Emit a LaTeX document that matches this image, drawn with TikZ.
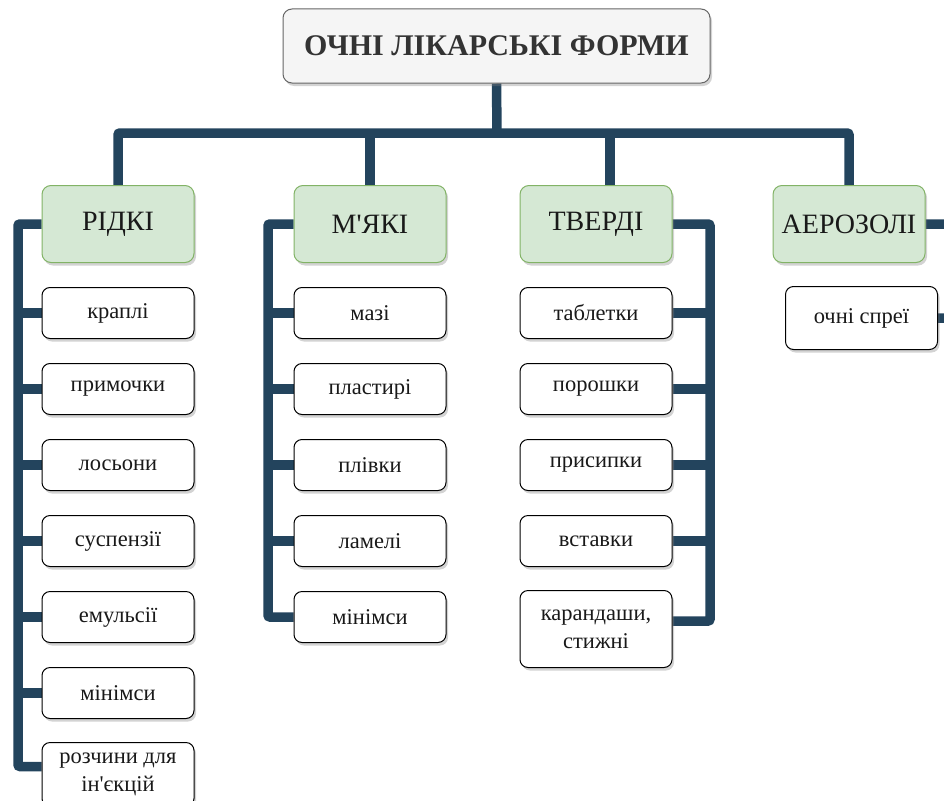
\documentclass[tikz,border=0pt]{standalone}
\usepackage{fontspec}
\setmainfont{Liberation Serif}
\usepackage{tikz}
\usetikzlibrary{positioning, calc, shadows, backgrounds}
\definecolor{titlebg}{HTML}{F5F5F5}
\definecolor{titleframe}{HTML}{666666}
\definecolor{titletext}{HTML}{333333}
\definecolor{groupbg}{HTML}{D5E8D4}
\definecolor{groupframe}{HTML}{82B366}
\definecolor{linkcolor}{HTML}{23445D}
\newcommand{\apos}{\textquotesingle}

\begin{document}
\begin{tikzpicture}[
    x=1pt, y=-1pt,
    title/.style={
        rectangle, rounded corners=9pt,
        fill=titlebg, draw=titleframe, line width=1pt, text=titletext,
        font=\fontsize{30}{34}\selectfont\bfseries,
        minimum width=427pt, minimum height=74pt,
        drop shadow={shadow xshift=2pt, shadow yshift=-3pt, opacity=0.35},
    },
    group/.style={
        rectangle, rounded corners=9pt,
        fill=groupbg, draw=groupframe, line width=1pt, text=black!90,
        font=\fontsize{28}{32}\selectfont,
        minimum width=152pt, minimum height=77pt,
        drop shadow={shadow xshift=2pt, shadow yshift=-3pt, opacity=0.35},
    },
    item/.style={
        rectangle, rounded corners=8pt,
        fill=white, draw=black, line width=1pt, text=black!90,
        font=\fontsize{22.5}{28}\selectfont, align=center,
        minimum width=152pt, minimum height=51pt, inner ysep=8pt,
        anchor=north,
        drop shadow={shadow xshift=2pt, shadow yshift=-3pt, opacity=0.35},
    },
    tall/.style={minimum height=77pt},
    link/.style={draw=linkcolor, line width=9.5pt, rounded corners=2pt},
]
\useasboundingbox (0,0) rectangle (944,800);

% Root
\node[title] (forms) at (496.5,46) {ОЧНІ ЛІКАРСЬКІ ФОРМИ};

% Groups
\node[group] (liquid)  at (118,224) {РІДКІ};
\node[group] (soft)    at (370,224) {М\apos ЯКІ};
\node[group] (solid)   at (596,224) {ТВЕРДІ};
\node[group] (aerosol) at (849,224) {АЕРОЗОЛІ};

% Items
\foreach \txt [count=\i] in {краплі, примочки, лосьони, суспензії, емульсії, мінімси}
    \node[item] (l\i) at (118,{287+76*(\i-1)}) {\txt};
\node[item, minimum height=64pt] (l7) at (118,742) {розчини для\\ін\apos єкцій};
\foreach \txt [count=\i] in {мазі, пластирі, плівки, ламелі, мінімси}
    \node[item] (s\i) at (370,{287+76*(\i-1)}) {\txt};
\foreach \txt [count=\i] in {таблетки, порошки, присипки, вставки}
    \node[item] (t\i) at (596,{287+76*(\i-1)}) {\txt};
\node[item, tall] (t5) at (596,590) {карандаши,\\стижні};
\node[item, minimum height=63pt] (a1) at (861.5,286) {очні спреї};

% Connectors
\begin{scope}[on background layer]
    \coordinate (bus) at (497,133);
    \coordinate (soliddrop) at ([xshift=14pt]solid.north);
    \draw[link] (forms.south) -- (bus);
    \draw[link] (liquid.north) |- (bus) -| (aerosol.north);
    \draw[link] (soft.north) -- (soft.north |- bus);
    \draw[link] (soliddrop) -- (soliddrop |- bus);

    \coordinate (lrail) at (18,0);
    \draw[link] (liquid.west) -| ([yshift=8pt]lrail |- l7.west) -- ([yshift=8pt]l7.west);
    \foreach \i in {1,...,6}
        \draw[link] (lrail |- l\i.west) -- (l\i.west);

    \coordinate (srail) at (268,0);
    \draw[link] (soft.west) -| (srail |- s5.west) -- (s5.west);
    \foreach \i in {1,...,4}
        \draw[link] (srail |- s\i.west) -- (s\i.west);

    \coordinate (trail) at (710,0);
    \draw[link] (solid.east) -| ([yshift=8pt]trail |- t5.east) -- ([yshift=8pt]t5.east);
    \foreach \i in {1,...,4}
        \draw[link] (trail |- t\i.east) -- (t\i.east);

    \coordinate (arail) at (952,0);
    \draw[link] (aerosol.east) -| (arail |- a1.east) -- (a1.east);
\end{scope}

\end{tikzpicture}
\end{document}
